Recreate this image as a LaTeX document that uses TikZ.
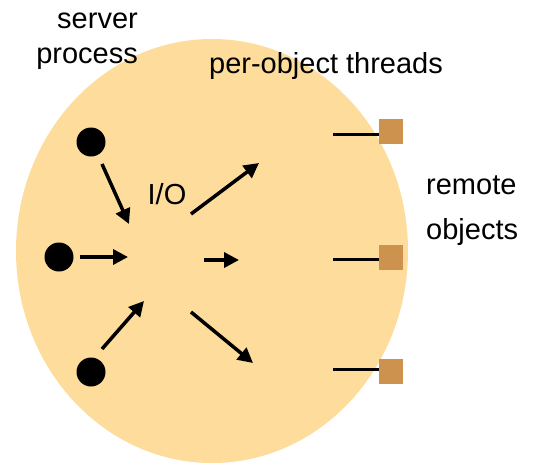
\documentclass[tikz,border=0pt]{standalone}
\usepackage{fontspec}
\setmainfont{Liberation Sans}
\usetikzlibrary{positioning}
\usetikzlibrary{arrows.meta}
\definecolor{procfill}{HTML}{FEDC9B}
\definecolor{objfill}{HTML}{CE924F}

\begin{document}
\begin{tikzpicture}[x=1pt, y=-1pt,
			thread/.style={circle, fill=black, minimum size=29pt, inner sep=0pt},
			robj/.style={rectangle, fill=objfill, minimum width=24pt, minimum height=25pt, inner sep=0pt},
			flow/.style={line width=3.5pt, -{Triangle[length=15pt,width=15pt]}},
			link/.style={line width=3pt},
			lbl/.style={font=\fontsize{29}{35}\selectfont, inner sep=0pt}
		]
			\useasboundingbox (0,0) rectangle (540,464);
			% server process
			\fill[procfill] (212,251) ellipse [x radius=196, y radius=212];
			\node[lbl, anchor=base east] (srv) at (138,28) {server};
			\node[lbl, anchor=base east] (proc) at (138,63) {process};
			% client threads
			\node[thread] (t1) at (91,142) {};
			\node[thread] (t2) at (59,257) {};
			\node[thread] (t3) at (91,372) {};
			% remote objects
			\node[robj] (o1) at (391,131.5) {};
			\node[robj] (o2) at (391,257) {};
			\node[robj] (o3) at (391,371) {};
			\coordinate (l1) at (333,134);
			\coordinate (l2) at (333,259);
			\coordinate (l3) at (333,369);
			\draw[link] (l1) -- (l1 -| o1.west);
			\draw[link] (l2) -- (l2 -| o2.west);
			\draw[link] (l3) -- (l3 -| o3.west);
			% incoming and outgoing
			\coordinate (a1) at (102,164);  \coordinate (h1) at (129,224);
			\coordinate (a2) at (80,257);   \coordinate (h2) at (128,257);
			\coordinate (a3) at (102,349);  \coordinate (h3) at (144,301);
			\coordinate (b1) at (191,214);  \coordinate (g1) at (259,163);
			\coordinate (b2) at (204,260);  \coordinate (g2) at (239,260);
			\coordinate (b3) at (191,312);  \coordinate (g3) at (253,363);
			\draw[flow] (a1) -- (h1);
			\draw[flow] (a2) -- (h2);
			\draw[flow] (a3) -- (h3);
			\draw[flow] (b1) -- (g1);
			\draw[flow] (b2) -- (g2);
			\draw[flow] (b3) -- (g3);
			\node[lbl, anchor=base] (io) at (167,204) {I/O};
			\node[lbl, anchor=base] (thr) at (326,73) {per-object threads};
			\node[lbl, anchor=base west] (rem) at (426,194) {remote};
			\node[lbl, anchor=base west] (objs) at (426,239) {objects};
		\end{tikzpicture}
\end{document}
